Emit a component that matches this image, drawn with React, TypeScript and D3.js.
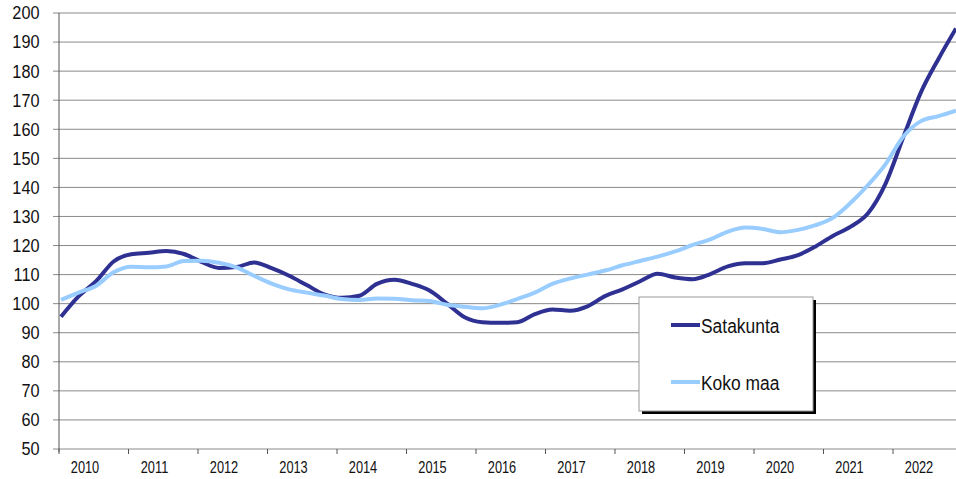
import React from 'react';
import * as d3 from 'd3';

const years = ['2010', '2011', '2012', '2013', '2014', '2015', '2016', '2017', '2018', '2019', '2020', '2021', '2022'];
const quarters = years.flatMap((y) => ['Q1', 'Q2', 'Q3', 'Q4'].map((q) => y + q));

const satakunta = [
  95.5, 102.5, 107.7, 114.5, 117.0, 117.5, 118.1, 117.1, 114.4, 112.3, 112.6, 114.2,
  112.2, 109.6, 106.4, 103.2, 102.0, 102.7, 106.8, 108.2, 106.8, 104.5, 100.0, 95.3,
  93.6, 93.4, 93.6, 96.4, 98.0, 97.6, 99.1, 102.6, 104.9, 107.7, 110.3, 109.0,
  108.4, 110.2, 112.8, 113.9, 113.9, 115.2, 116.7, 119.7, 123.4, 126.5, 131.2, 141.5,
  157.3, 172.7, 184.2, 194.7,
];
const kokoMaa = [
  101.3, 103.8, 106.2, 110.8, 112.7, 112.5, 112.8, 114.7, 114.8, 114.1, 112.5, 109.6,
  106.9, 104.9, 103.8, 102.8, 101.6, 101.3, 101.8, 101.7, 101.2, 100.9, 99.6, 98.9,
  98.4, 99.6, 101.6, 103.8, 106.8, 108.6, 110.0, 111.4, 113.2, 114.7, 116.2, 118.0,
  120.2, 122.1, 124.8, 126.2, 125.7, 124.6, 125.4, 127.0, 129.6, 134.7, 140.9, 148.1,
  157.5, 162.8, 164.5, 166.4,
];
const yTicks = [50, 60, 70, 80, 90, 100, 110, 120, 130, 140, 150, 160, 170, 180, 190, 200];

const series = [
  { name: 'Satakunta', values: satakunta, color: '#2e3192' },
  { name: 'Koko maa', values: kokoMaa, color: '#99ccff' },
];

const W = 956;
const H = 479;
const FONT = '"Liberation Sans", Arial, sans-serif';

export default function App() {
  const left = 59;
  const right = 956;
  const y = d3.scaleLinear().domain([50, 200]).range([449, 13]);
  const x = d3.scalePoint<string>().domain(quarters).range([61, right]);
  const yearX = d3.scaleLinear().domain([2010, 2023]).range([left, left + 13 * 69.5]);

  const line = (vals: number[]) =>
    d3
      .line<number>()
      .x((_, i) => x(quarters[i]) as number)
      .y((d) => y(d))
      .curve(d3.curveMonotoneX)(vals) as string;

  const legX = 639;
  const legY = 297;
  const legW = 174;
  const legH = 114;

  return (
    <svg width={W} height={H} style={{ position: 'absolute', left: 0, top: 0, background: '#fff' }}>
      <rect width={W} height={H} fill="#fff" />
      {yTicks.map((t) => (
        <g key={t}>
          <line x1={53} x2={right} y1={y(t)} y2={y(t)} stroke="#8a8a8a" strokeWidth={1} />
          <text
            transform={`translate(39.5,${y(t)}) scale(0.88,1)`}
            textAnchor="end"
            dominantBaseline="central"
            fontFamily={FONT}
            fontSize={18.5}
            fill="#111"
          >
            {t}
          </text>
        </g>
      ))}
      <line x1={left} x2={left} y1={13} y2={452} stroke="#555" strokeWidth={1} />
      {years.map((yr) => {
        const xt = yearX(+yr);
        return (
          <g key={yr}>
            <line x1={xt} x2={xt} y1={449} y2={454} stroke="#555" strokeWidth={1} />
            <text
              transform={`translate(${xt + 26},473) scale(0.8,1)`}
              textAnchor="middle"
              fontFamily={FONT}
              fontSize={16}
              fill="#111"
            >
              {yr}
            </text>
          </g>
        );
      })}
      {series.map((s) => (
        <path key={s.name} d={line(s.values)} fill="none" stroke={s.color} strokeWidth={4} strokeLinejoin="round" />
      ))}
      <rect x={legX + 3} y={legY + 3} width={legW} height={legH} fill="#000" />
      <rect x={legX} y={legY} width={legW} height={legH} fill="#fff" stroke="#999" strokeWidth={1} />
      {series.map((s, i) => {
        const ly = i === 0 ? 325 : 382;
        return (
          <g key={s.name}>
            <line x1={671} x2={700} y1={ly} y2={ly} stroke={s.color} strokeWidth={4} />
            <text
              transform={`translate(701,${ly + 7.5}) scale(0.83,1)`}
              fontFamily={FONT}
              fontSize={21}
              fill="#111"
            >
              {s.name}
            </text>
          </g>
        );
      })}
    </svg>
  );
}
